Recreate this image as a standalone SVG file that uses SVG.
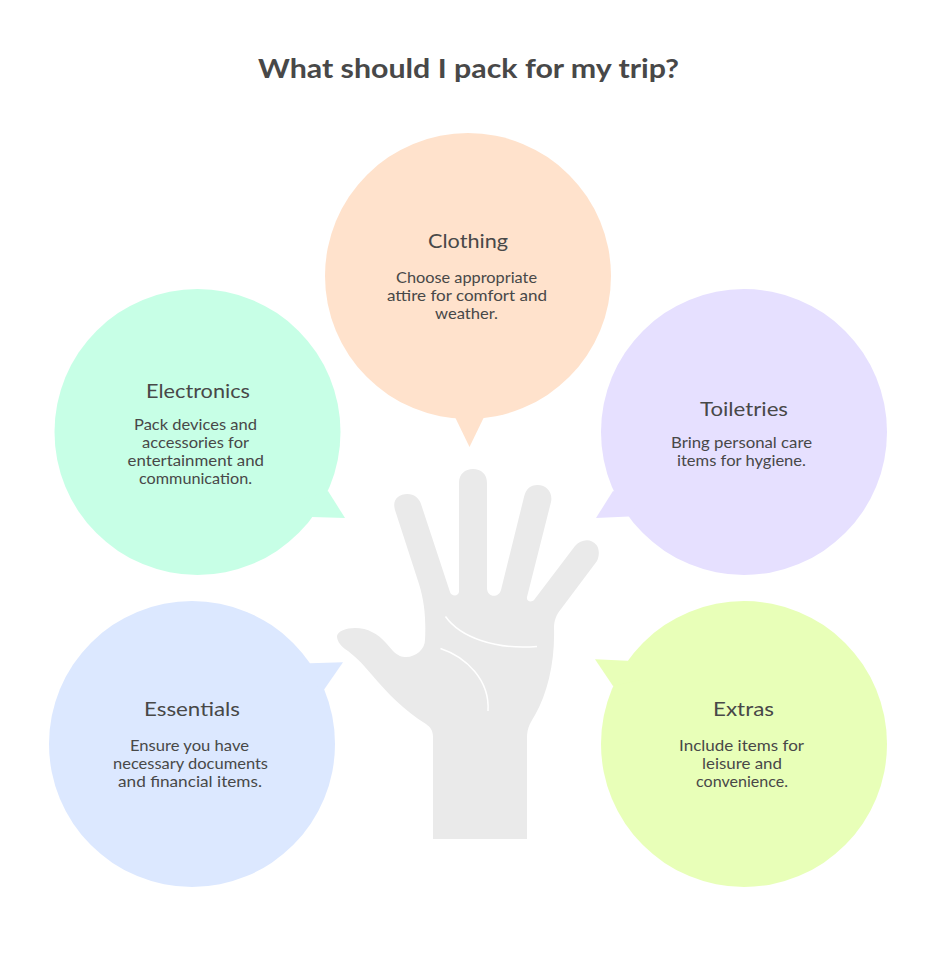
<svg xmlns="http://www.w3.org/2000/svg" width="936" height="960" viewBox="0 0 936 960">
<style>
text{font-family:"Lato","Noto Sans",sans-serif;fill:#484848;}
.t{font-size:27px;font-weight:700;}
.h{font-size:20px;}
.b{font-size:15px;}
.palm{fill:none;stroke:#fff;stroke-width:1.5;}
</style>
<rect width="936" height="960" fill="#fff"/>
<text class="t" x="258" y="78" textLength="421" lengthAdjust="spacingAndGlyphs">What should I pack for my trip?</text>
<g id="hand">
<path fill="#eaeaea" d="M433 839V737C433 730 430 727 426 724C405 711 388 694 372 675C362 663 354 655 345 649C339 644 337 640 337 636C338 631 346 628 355 628C368 628 378 634 386 643L393 651C398 656 402 657 406 657C416 657 425 649 425 640C426 622 425 603 419 584L395 510C392 500 398 494 407.500 494C414 494 419 498 421 504L450 592C451 596 458 597 459 592V483C459 474 465 469 473 469C481 469 487 474 487 483V588C487 598 499 598 501 590L524 497C526 489 530 485 537.500 485C547 485 553 493 551 502L527 597C526 601 531 603 534 600L575 546C581 539 591 538 596.500 545C600 550 599 557 597 561L561 609C556 615 554 621 554 628C555 661 548 692 535 715C531 722 527 727 527 738V839Z"/>
<path class="palm" d="M445.5 616.5C460 637 495 650 537 646.5"/>
<path class="palm" d="M440.5 648.5C466 657 490 680 488 711"/>
</g>
<g id="clothing">
<circle cx="468" cy="276" r="143" fill="#ffe2cc"/>
<polygon points="454.5,416 469.5,447 484.5,416" fill="#ffe2cc"/>
<text class="h" x="428" y="248" textLength="80" lengthAdjust="spacingAndGlyphs">Clothing</text>
<text class="b" x="396" y="283" textLength="141" lengthAdjust="spacingAndGlyphs">Choose appropriate</text>
<text class="b" x="387" y="301" textLength="160" lengthAdjust="spacingAndGlyphs">attire for comfort and</text>
<text class="b" x="435" y="319" textLength="63" lengthAdjust="spacingAndGlyphs">weather.</text>
</g>
<g id="electronics">
<circle cx="197.5" cy="432" r="143" fill="#c7ffe6"/>
<polygon points="328,491 345,518 312,517 300,500" fill="#c7ffe6"/>
<text class="h" x="146" y="398" textLength="104" lengthAdjust="spacingAndGlyphs">Electronics</text>
<text class="b" x="134" y="430" textLength="123" lengthAdjust="spacingAndGlyphs">Pack devices and</text>
<text class="b" x="142" y="448" textLength="107" lengthAdjust="spacingAndGlyphs">accessories for</text>
<text class="b" x="127.500" y="466" textLength="136.500" lengthAdjust="spacingAndGlyphs">entertainment and</text>
<text class="b" x="139" y="484" textLength="113" lengthAdjust="spacingAndGlyphs">communication.</text>
</g>
<g id="toiletries">
<circle cx="744" cy="432" r="143" fill="#e6e0ff"/>
<polygon points="613,491 596,518 629,516.500 640,500" fill="#e6e0ff"/>
<text class="h" x="700" y="416" textLength="88" lengthAdjust="spacingAndGlyphs">Toiletries</text>
<text class="b" x="671" y="448" textLength="141" lengthAdjust="spacingAndGlyphs">Bring personal care</text>
<text class="b" x="677" y="466" textLength="129" lengthAdjust="spacingAndGlyphs">items for hygiene.</text>
</g>
<g id="essentials">
<circle cx="192" cy="744" r="143" fill="#dce8ff"/>
<polygon points="343,662.300 310,663.300 300,680 324.300,689.300" fill="#dce8ff"/>
<text class="h" x="144" y="716" textLength="96" lengthAdjust="spacingAndGlyphs">Essentials</text>
<text class="b" x="130" y="751" textLength="119" lengthAdjust="spacingAndGlyphs">Ensure you have</text>
<text class="b" x="113" y="769" textLength="155" lengthAdjust="spacingAndGlyphs">necessary documents</text>
<text class="b" x="118" y="787" textLength="144" lengthAdjust="spacingAndGlyphs">and financial items.</text>
</g>
<g id="extras">
<circle cx="744" cy="744" r="143" fill="#e8ffb8"/>
<polygon points="595,659.300 627.700,660.700 640,680 613,686" fill="#e8ffb8"/>
<text class="h" x="713" y="716" textLength="61" lengthAdjust="spacingAndGlyphs">Extras</text>
<text class="b" x="679" y="751" textLength="125" lengthAdjust="spacingAndGlyphs">Include items for</text>
<text class="b" x="702" y="769" textLength="80" lengthAdjust="spacingAndGlyphs">leisure and</text>
<text class="b" x="696" y="787" textLength="92" lengthAdjust="spacingAndGlyphs">convenience.</text>
</g>
<g id="connectors"/>
</svg>
